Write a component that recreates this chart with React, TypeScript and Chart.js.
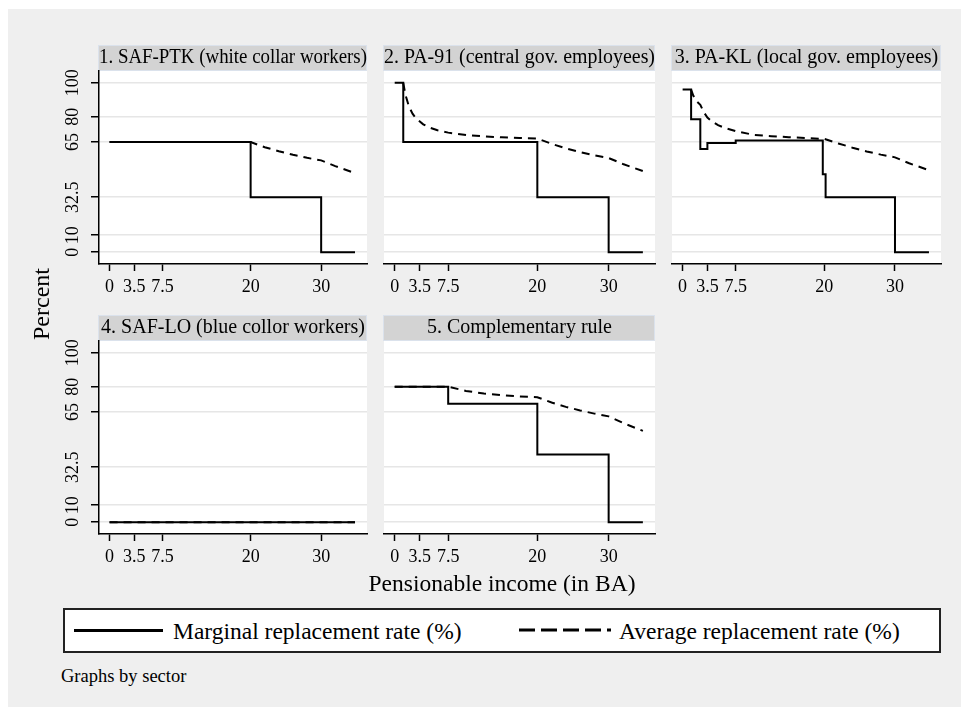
import React, { useEffect, useRef } from 'react';
import { Chart, registerables } from 'chart.js';

Chart.register(...registerables);

const FONT = "'Liberation Serif', 'Times New Roman', serif";

// ---------- data ----------
const xTickValues = [0, 3.5, 7.5, 20, 30];
const xTickLabels = ['0', '3.5', '7.5', '20', '30'];
const yTickValues = [0, 10, 32.5, 65, 80, 100];
const yTickLabels = ['0', '10', '32.5', '65', '80', '100'];

const panelTitles = [
  '1. SAF-PTK (white collar workers)',
  '2. PA-91 (central gov. employees)',
  '3. PA-KL (local gov. employees)',
  '4. SAF-LO (blue collor workers)',
  '5. Complementary rule',
];

const legendLabels = ['Marginal replacement rate (%)', 'Average replacement rate (%)'];
const xAxisTitle = 'Pensionable income (in BA)';
const yAxisTitle = 'Percent';
const noteText = 'Graphs by sector';

// Marginal rate: value holds from each x until the next x (step)
const ptkMarginalX = [0, 20, 30, 34.8];
const ptkMarginalY = [65, 32.5, 0, 0];
const ptkAverageX = [0, 20, 22, 24, 26, 28, 30, 32, 34.8];
const ptkAverageY = [65, 65, 62.0, 59.6, 57.5, 55.7, 54.2, 50.8, 46.7];

const pa91MarginalX = [0, 1.2, 20, 30, 34.8];
const pa91MarginalY = [100, 65, 32.5, 0, 0];
const pa91AverageX = [1.2, 1.5, 2, 2.5, 3, 4, 5, 6, 7.5, 10, 12.5, 15, 17.5, 20, 22, 24, 26, 28, 30, 32, 34.8];
const pa91AverageY = [100, 93, 86, 81.8, 79, 75.5, 73.4, 72, 70.6, 69.2, 68.4, 67.8, 67.4, 67.1, 64.0, 61.3, 59.1, 57.2, 55.6, 52.1, 47.9];

const paklMarginalX = [0, 1.2, 2.5, 3.5, 7.5, 19.8, 20.2, 30, 34.8];
const paklMarginalY = [96, 78.5, 61, 64.5, 66, 46, 32.5, 0, 0];
const paklAverageX = [1.2, 1.5, 2, 2.5, 3, 3.5, 4, 5, 6, 7.5, 10, 12.5, 15, 17.5, 20, 22, 24, 26, 28, 30, 32, 34.8];
const paklAverageY = [96, 92.5, 89, 87, 82.6, 79.5, 77.7, 75, 73.3, 71.5, 69.3, 68.5, 67.9, 67.4, 66.9, 64.2, 61.7, 59.5, 57.6, 56.0, 52.5, 48.4];

const safloMarginalX = [0, 34.8];
const safloMarginalY = [0, 0];
const safloAverageX = [0, 34.8];
const safloAverageY = [0, 0];

const compMarginalX = [0, 7.5, 20, 30, 34.8];
const compMarginalY = [80, 70, 40, 0, 0];
const compAverageX = [0, 7.5, 10, 12.5, 15, 17.5, 20, 22, 24, 26, 28, 30, 32, 34.8];
const compAverageY = [80, 80, 77.5, 76, 75, 74.3, 73.8, 70.7, 68.1, 66, 64.1, 62.5, 58.6, 53.9];

// ---------- layout ----------
const ROW_TOP = [45, 315];
const COL_PLOT_LEFT = [99, 384, 672];
const COL_PLOT_WIDTH = [268, 271, 269];
const STRIP_H = 26;
const PLOT_H = 193;
const XAXIS_H = 36;
const SIDE_PAD = 14;
const YAXIS_W = 49;

type PanelDef = {
  title: string; row: number; col: number;
  mx: number[]; my: number[]; ax: number[]; ay: number[];
};

const panels: PanelDef[] = [
  { title: panelTitles[0], row: 0, col: 0, mx: ptkMarginalX, my: ptkMarginalY, ax: ptkAverageX, ay: ptkAverageY },
  { title: panelTitles[1], row: 0, col: 1, mx: pa91MarginalX, my: pa91MarginalY, ax: pa91AverageX, ay: pa91AverageY },
  { title: panelTitles[2], row: 0, col: 2, mx: paklMarginalX, my: paklMarginalY, ax: paklAverageX, ay: paklAverageY },
  { title: panelTitles[3], row: 1, col: 0, mx: safloMarginalX, my: safloMarginalY, ax: safloAverageX, ay: safloAverageY },
  { title: panelTitles[4], row: 1, col: 1, mx: compMarginalX, my: compMarginalY, ax: compAverageX, ay: compAverageY },
];

const toPts = (xs: number[], ys: number[]) => xs.map((x, i) => ({ x, y: ys[i] }));

const stripPlugin = {
  id: 'strip',
  beforeDraw(chart: any) {
    const { ctx, chartArea: a } = chart;
    ctx.save();
    ctx.fillStyle = '#ffffff';
    ctx.fillRect(a.left, a.top, a.right - a.left, a.bottom - a.top);
    ctx.fillStyle = '#d3d3d3';
    ctx.fillRect(a.left - 1, a.top - STRIP_H, a.right - a.left + 1, STRIP_H);
    ctx.strokeStyle = '#dbe2ec';
    ctx.lineWidth = 1;
    ctx.strokeRect(a.left - 0.5, a.top - STRIP_H + 0.5, a.right - a.left, STRIP_H - 1);
    ctx.restore();
  },
};

function Panel({ p }: { p: PanelDef }) {
  const ref = useRef<HTMLCanvasElement | null>(null);
  const hasY = p.col === 0;
  const plotLeft = COL_PLOT_LEFT[p.col];
  const plotW = COL_PLOT_WIDTH[p.col];
  const left = plotLeft - SIDE_PAD - (hasY ? YAXIS_W : 0);
  const width = (hasY ? YAXIS_W : 0) + plotW + 2 * SIDE_PAD;
  const top = ROW_TOP[p.row];
  const height = STRIP_H + PLOT_H + XAXIS_H;

  useEffect(() => {
    const chart = new Chart(ref.current as HTMLCanvasElement, {
      type: 'line',
      data: {
        datasets: [
          {
            label: legendLabels[1],
            data: toPts(p.ax, p.ay),
            borderColor: '#000',
            borderWidth: 2,
            borderDash: [8, 6],
            pointRadius: 0,
            tension: 0,
            fill: false,
            order: 0,
          },
          {
            label: legendLabels[0],
            data: toPts(p.mx, p.my),
            borderColor: '#000',
            borderWidth: 2,
            pointRadius: 0,
            stepped: true,
            fill: false,
            order: 1,
          },
        ],
      } as any,
      options: {
        responsive: false,
        animation: false,
        devicePixelRatio: 1,
        events: [],
        layout: { padding: { top: 0, bottom: 0, left: SIDE_PAD, right: SIDE_PAD } },
        plugins: {
          legend: { display: false },
          tooltip: { enabled: false },
          title: {
            display: true,
            text: p.title,
            fullSize: false,
            position: 'top',
            align: 'center',
            color: '#000',
            font: { family: FONT, size: 20, weight: 'normal', lineHeight: 1.2 },
            padding: { top: 1, bottom: 1 },
          },
        },
        scales: {
          x: {
            type: 'linear',
            min: -1.5,
            max: 36.5,
            afterBuildTicks: (s: any) => { s.ticks = xTickValues.map((v) => ({ value: v })); },
            afterFit: (s: any) => { s.height = XAXIS_H; },
            ticks: {
              autoSkip: false,
              minRotation: 0,
              maxRotation: 0,
              padding: 5,
              color: '#000',
              font: { family: FONT, size: 18 },
              callback: (v: any) => {
                const i = xTickValues.indexOf(Number(v));
                return i >= 0 ? xTickLabels[i] : '';
              },
            },
            grid: { drawOnChartArea: false, drawTicks: true, tickLength: 7, tickColor: '#000', tickWidth: 1.5 },
            border: { display: true, color: '#000', width: 1.5 },
          },
          y: {
            type: 'linear',
            min: -7,
            max: 107,
            afterBuildTicks: (s: any) => { s.ticks = yTickValues.map((v) => ({ value: v })); },
            afterFit: (s: any) => { s.width = hasY ? YAXIS_W : 0; },
            ticks: {
              display: hasY,
              autoSkip: false,
              minRotation: 90,
              maxRotation: 90,
              crossAlign: 'center',
              padding: 2,
              color: '#000',
              font: { family: FONT, size: 18 },
              callback: (v: any) => {
                const i = yTickValues.indexOf(Number(v));
                return i >= 0 ? yTickLabels[i] : '';
              },
            },
            grid: {
              color: '#e6e6e6',
              lineWidth: 1.5,
              drawTicks: hasY,
              tickLength: 8,
              tickColor: '#000',
              tickWidth: 1.5,
            },
            border: { display: hasY, color: '#000', width: 1.5 },
          },
        },
      } as any,
      plugins: [stripPlugin],
    });
    return () => chart.destroy();
  }, []);

  return (
    <canvas
      ref={ref}
      width={width}
      height={height}
      style={{ position: 'absolute', left, top, width, height }}
    />
  );
}

export default function App() {
  const txt: React.CSSProperties = { position: 'absolute', whiteSpace: 'nowrap', lineHeight: 1, fontFamily: FONT, color: '#000' };
  return (
    <div style={{ position: 'fixed', left: 0, top: 0, width: 961, height: 707, background: '#fff', overflow: 'hidden' }}>
      <div style={{ position: 'absolute', left: 8, top: 9, width: 953, height: 698, background: '#efefef' }} />
      {panels.map((p, i) => <Panel key={i} p={p} />)}
      <div style={{ ...txt, left: 41, top: 304, fontSize: 24, transform: 'translate(-50%, -50%) rotate(-90deg)' }}>{yAxisTitle}</div>
      <div style={{ ...txt, left: 502, top: 584, fontSize: 23.5, transform: 'translate(-50%, -50%)' }}>{xAxisTitle}</div>
      <div style={{ position: 'absolute', left: 63, top: 608, width: 878, height: 45, boxSizing: 'border-box', border: '2px solid #222', background: '#fff' }} />
      <div style={{ position: 'absolute', left: 74, top: 628.5, width: 89, height: 3, background: '#000' }} />
      <div style={{ ...txt, left: 173, top: 632, fontSize: 23.5, transform: 'translateY(-50%)' }}>{legendLabels[0]}</div>
      <svg style={{ position: 'absolute', left: 519, top: 627 }} width={92} height={6}>
        <line x1={0} y1={3} x2={92} y2={3} stroke="#000" strokeWidth={3} strokeDasharray="16 6" />
      </svg>
      <div style={{ ...txt, left: 619, top: 632, fontSize: 23.5, transform: 'translateY(-50%)' }}>{legendLabels[1]}</div>
      <div style={{ ...txt, left: 61, top: 676, fontSize: 18.5, transform: 'translateY(-50%)' }}>{noteText}</div>
    </div>
  );
}
